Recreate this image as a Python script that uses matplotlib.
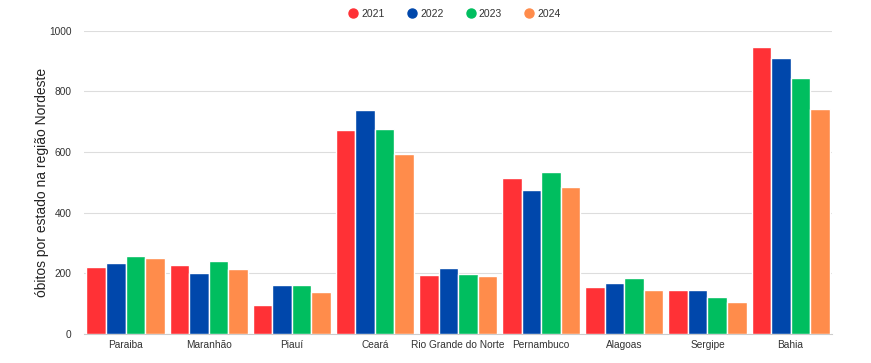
import matplotlib
matplotlib.use("Agg")
import matplotlib.pyplot as plt
import numpy as np
from matplotlib.lines import Line2D

plt.rcParams['font.family'] = ['Liberation Sans', 'DejaVu Sans']

estados = ["Paraiba", "Maranhão", "Piauí", "Ceará", "Rio Grande do Norte",
           "Pernambuco", "Alagoas", "Sergipe", "Bahia"]
anos = ["2021", "2022", "2023", "2024"]
v2021 = [221, 229, 95, 672, 194, 516, 156, 145, 946]
v2022 = [235, 201, 162, 738, 217, 474, 168, 144, 912]
v2023 = [257, 240, 162, 675, 199, 535, 183, 122, 843]
v2024 = [250, 215, 138, 593, 191, 485, 145, 106, 742]
series = [v2021, v2022, v2023, v2024]
cores = ["#ff3136", "#0047ab", "#00be5f", "#ff8c4b"]

fig = plt.figure(figsize=(8.71, 3.63), dpi=100)
ax = fig.add_axes([0.0964, 0.080, 0.859, 0.835])

x = np.arange(len(estados))
slot = 0.235
for i, (vals, c) in enumerate(zip(series, cores)):
    ax.bar(x + (i - 1.5) * slot, vals, width=slot, color=c,
           edgecolor="white", linewidth=1.0, zorder=3)

ax.set_xlim(-0.5, len(estados) - 0.5)
ax.set_ylim(0, 1000)
ax.set_yticks([0, 200, 400, 600, 800, 1000])
ax.set_xticks(x)
ax.set_xticklabels(estados)
ax.tick_params(axis='both', length=0, labelsize=7.3, colors="#333333", pad=4)
ax.tick_params(axis='y', pad=9)
ax.grid(axis='y', color="#dddddd", linewidth=0.8, zorder=0)
for s in ["top", "right", "left"]:
    ax.spines[s].set_visible(False)
ax.spines["bottom"].set_color("#cccccc")
ax.set_ylabel("óbitos por estado na região Nordeste", fontsize=10, color="#222222", labelpad=0)

handles = [Line2D([0], [0], marker='o', linestyle='', markersize=6.5,
                  markerfacecolor=c, markeredgecolor=c) for c in cores]
fig.legend(handles, anos, loc='center', bbox_to_anchor=(0.521, 0.962), ncol=4,
           frameon=False, fontsize=7.5, handletextpad=0.2, columnspacing=2.0,
           handlelength=1.2, labelcolor="#333333")

fig.savefig("out.png", dpi=100, facecolor="white")
